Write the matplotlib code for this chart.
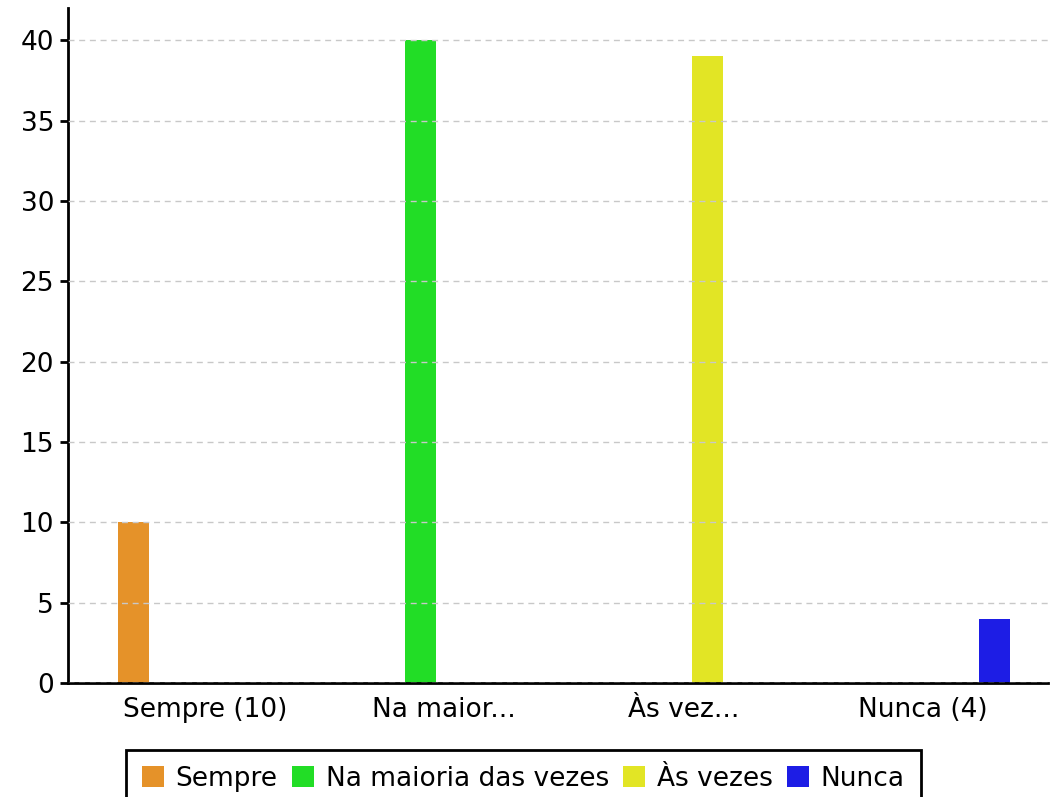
import matplotlib
matplotlib.use('Agg')
import matplotlib.pyplot as plt
import numpy as np

categories = ['Sempre (10)', 'Na maior...', 'Às vez...', 'Nunca (4)']
series = ['Sempre', 'Na maioria das vezes', 'Às vezes', 'Nunca']
values = [
    [10, 0, 0, 0],
    [0, 40, 0, 0],
    [0, 0, 39, 0],
    [0, 0, 0, 4],
]
colors = ['#E59229', '#22DD26', '#E2E525', '#1D1DE5']

fig = plt.figure(figsize=(10.5, 7.97), dpi=100)
ax = fig.add_axes([68 / 1050, 1 - 683 / 797, (1048 - 68) / 1050, (683 - 8) / 797])

x = np.arange(len(categories))
width = 0.13
offsets = [-0.3, -0.1, 0.1, 0.3]
for i, name in enumerate(series):
    ax.bar(x + offsets[i], values[i], width, color=colors[i], label=name, zorder=2)

ax.set_xlim(-0.572, 3.522)
ax.set_ylim(0, 42)
ax.set_yticks(range(0, 41, 5))
ax.set_xticks(x)
ax.set_xticklabels(categories)
ax.tick_params(axis='x', length=0, labelsize=19, pad=10)
ax.tick_params(axis='y', length=6, width=2, labelsize=19, pad=4)
ax.grid(axis='y', linestyle=(0, (4.3, 3.4)), color='#c8c8c8', linewidth=1, zorder=3)
ax.set_axisbelow(False)
for s in ['top', 'right']:
    ax.spines[s].set_visible(False)
for s in ['left', 'bottom']:
    ax.spines[s].set_linewidth(2)

leg = fig.legend(loc='upper center', bbox_to_anchor=(0.4985, 1 - 750 / 797), ncol=4,
                 fontsize=19, frameon=True, fancybox=False, edgecolor='black',
                 handlelength=0.82, handleheight=0.82, handletextpad=0.45, columnspacing=0.55,
                 borderpad=0.6, borderaxespad=0)
leg.get_frame().set_linewidth(2)
leg.get_frame().set_alpha(1)

fig.savefig('out.png', dpi=100)
